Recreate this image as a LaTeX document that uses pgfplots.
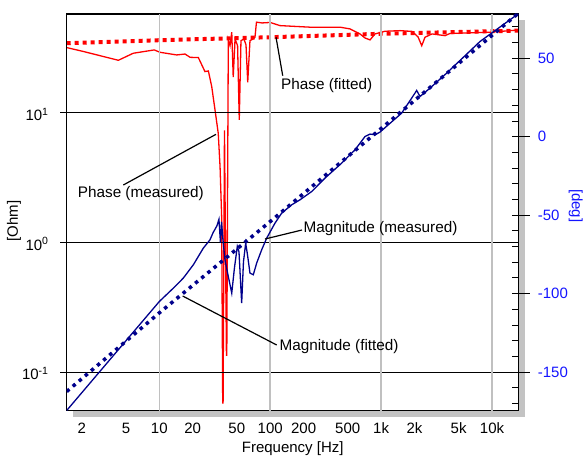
\documentclass[border=0pt]{standalone}
\usepackage{pgfplots}
\pgfplotsset{compat=1.18}
\usepackage{fontspec}
\setmainfont{Liberation Sans}
\definecolor{navy}{RGB}{0,0,140}
\definecolor{myblue}{RGB}{20,20,255}
\definecolor{gridgray}{RGB}{192,192,192}
\definecolor{shadowgray}{RGB}{195,195,195}
\begin{document}
\fontsize{15bp}{18bp}\selectfont
\begin{tikzpicture}[font=\fontsize{15bp}{18bp}\selectfont]
\fill[shadowgray] (6bp,-6bp) rectangle (458bp,390.7bp);
\fill[white] (0,0) rectangle (452bp,396.7bp);
% phase axis (right)
\begin{axis}[width=452bp,height=396.7bp,scale only axis,at={(0,0)},anchor=south west,
  xmode=log,xmin=1.462,xmax=17410,xminorticks=false,yminorticks=false,
  ymin=-174.6, ymax=78.2, axis x line=none, axis y line*=right,
  ytick={-150,-100,-50,0,50}, yticklabels={-150,-100,-50,0,50},
  yticklabel style={color=myblue, xshift=2.7bp},
  tick align=outside, major tick length=11.3bp, ytick style={black, line width=1bp},
  axis line style={black, line width=1.3bp},
  ylabel={[deg]}, ylabel style={color=myblue, at={(axis description cs:1.1263,0.5165)}, anchor=center, rotate=180}]
\addplot[red, line width=1.3bp] coordinates {
(1.462,56.8) (2.07,54.3) (4.27,48.7) (5.83,53.2) (9.0,55.3) (10.15,53.8) (14.35,52.1) (17.06,52.7)
(18.93,50.6) (22.5,50.4) (25.8,41.5) (27.7,41.9) (29.7,31.9) (31.8,17.0) (34.0,2.2) (35.3,-19.1)
(36.5,-51) (37.3,-169.6) (37.6,-169.6) (38.7,4) (40.3,-139.2) (40.6,-139.2) (41.9,61.7) (43.4,58)
(45.0,66.6) (46.4,38) (48.2,62.3) (50.8,58) (52.6,10.7) (54.5,61.2) (58.0,62.3) (60.5,58.5)
(62.7,34.7) (65.7,61.2) (70.0,62.3) (72.9,63.4) (75.2,73.0) (84.3,72.5) (100,72.8) (122.5,70.8)
(167.4,70.3) (228.5,69.8) (426,69.8) (524,68.7) (645,65.5) (716,62.9) (795,61.7) (881,65.5)
(1084,67.2) (1482,67.6) (1901,67.1) (2153,63.6) (2324,58.0) (2489,63.4) (2877,65.5) (3768,64.4)
(4180,65.8) (9590,66.6) (17410,68.0)};
\addplot[red, line width=4bp, dash pattern=on 4bp off 4bp] coordinates {
(1.462,59.6) (10,61.5) (100,63.4) (1000,65.6) (10000,67.2) (17410,67.6)};
\end{axis}
% minor inside ticks on right axis
\begin{axis}[width=452bp,height=396.7bp,scale only axis,at={(0,0)},anchor=south west,
  xmode=log,xmin=1.462,xmax=17410,xminorticks=false,yminorticks=false,
  ymin=-174.6, ymax=78.2, axis x line=none, axis y line*=right,
  ytick={-170,-160,...,70}, yticklabels={}, tick align=inside, major tick length=6.7bp,
  ytick style={black, line width=1bp}, axis line style={draw=none}]
\addplot[draw=none] coordinates {(10,0)};
\end{axis}
% magnitude axis (left, log)
\begin{axis}[width=452bp,height=396.7bp,scale only axis,at={(0,0)},anchor=south west,
  xmode=log,xmin=1.462,xmax=17410,xminorticks=false,yminorticks=false,
  ymode=log, ymin=0.0506, ymax=57.6,
  axis line style={black, line width=1.3bp},
  xtick={2,5,10,20,50,100,200,500,1000,2000,5000,10000},
  xticklabels={2,5,10,20,50,100,200,500,1k,2k,5k,10k},
  xtick style={draw=none}, xticklabel style={yshift=-0.3bp},
  extra x ticks={10,100,1000,10000}, extra x tick labels={},
  extra x tick style={grid=major, major tick length=0pt},
  major x grid style={gridgray, line width=1.5bp},
  ytick={0.1,1,10}, yticklabels={10\textsuperscript{-1},10\textsuperscript{0},10\textsuperscript{1}},
  ytick pos=left, tick align=outside, major tick length=6.7bp, ytick style={black, line width=1bp},
  ymajorgrids, major y grid style={black, line width=0.9bp},
  yticklabel style={xshift=-6.3bp, yshift=-1.5bp},
  xlabel={Frequency [Hz]}, xlabel style={at={(axis description cs:0.5,-0.1058)}, anchor=base},
  ylabel={[Ohm]}, ylabel style={at={(axis description cs:-0.1166,0.4787)}, anchor=center}]
\addplot[navy, line width=1.3bp] coordinates {
(1.462,0.0508) (10,0.351) (13.86,0.458) (16.46,0.532) (20.26,0.673) (24.94,0.905) (28.65,1.049)
(30.5,1.188) (33.1,1.345) (34.5,1.509) (35.6,0.995) (36.4,1.444) (37.5,1.049) (39.1,0.736)
(41.6,0.564) (45.0,0.4075) (47.6,0.638) (50.5,0.932) (52.3,0.848) (55.3,0.341) (57.4,0.710)
(60.1,0.989) (62.4,0.804) (65.7,0.581) (70.4,0.564) (75.5,0.694) (83.8,0.879) (93.0,1.081)
(110.5,1.411) (127.0,1.685) (156.3,1.952) (185.7,2.133) (236.7,2.471) (311.9,3.134) (441.2,4.090)
(581.9,5.177) (715.8,6.556) (794.6,6.842) (882,6.756) (977.4,7.087) (1161,8.069) (1534,9.929)
(2094,14.83) (2243,13.33) (2761,15.47) (3904,20.19) (7796,35.37) (17260,57.8)};
\addplot[navy, line width=3.5bp, dash pattern=on 3.5bp off 4.5bp] coordinates {
(1.462,0.0711) (10,0.287) (100,1.45) (1000,7.55) (10000,39.4) (17410,58.7)};
\begin{scope}[font=\fontsize{15.3bp}{18bp}\selectfont]
\draw[black, line width=1.2bp] (axis description cs:0.4631,0.9413) -- (axis description cs:0.4779,0.8445);
\node[anchor=base west, inner sep=0] at (axis description cs:0.4741,0.8102) {Phase (fitted)};
\draw[black, line width=1.2bp] (axis description cs:0.1252,0.5689) -- (axis description cs:0.3303,0.6967);
\node[anchor=base west, inner sep=0] at (axis description cs:0.0243,0.538) {Phase (measured)};
\draw[black, line width=1.2bp] (axis description cs:0.4387,0.4328) -- (axis description cs:0.5206,0.4555);
\node[anchor=base west, inner sep=0] at (axis description cs:0.5235,0.4487) {Magnitude (measured)};
\draw[black, line width=1.2bp] (axis description cs:0.2566,0.2891) -- (axis description cs:0.4646,0.1656);
\node[anchor=base west, inner sep=0] at (axis description cs:0.4704,0.1512) {Magnitude (fitted)};
\end{scope}
\end{axis}
\pgfresetboundingbox
\path[use as bounding box] (-66.7bp,-45.3bp) rectangle (518.3bp,410.7bp);
\end{tikzpicture}
\end{document}
